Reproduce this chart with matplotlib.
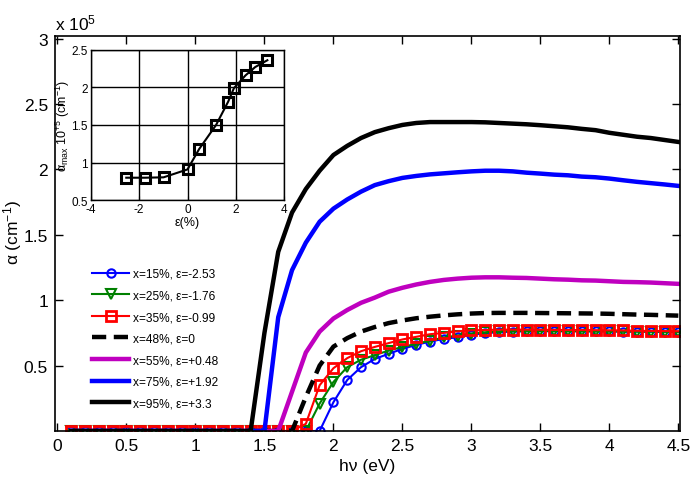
import matplotlib
matplotlib.use("Agg")
import matplotlib.pyplot as plt
from matplotlib.ticker import FuncFormatter

plt.rcParams['font.family'] = ['Liberation Sans', 'DejaVu Sans']
plt.rcParams['mathtext.fontset'] = 'custom'
plt.rcParams['mathtext.rm'] = 'Liberation Sans'
plt.rcParams['mathtext.it'] = 'Liberation Sans:italic'

# ---------------- data ----------------
energy = [0.1, 0.2, 0.3, 0.4, 0.5, 0.6, 0.7, 0.8, 0.9, 1.0,
          1.1, 1.2, 1.3, 1.4, 1.5, 1.6, 1.7, 1.8, 1.9, 2.0,
          2.1, 2.2, 2.3, 2.4, 2.5, 2.6, 2.7, 2.8, 2.9, 3.0,
          3.1, 3.2, 3.3, 3.4, 3.5, 3.6, 3.7, 3.8, 3.9, 4.0,
          4.1, 4.2, 4.3, 4.4, 4.5]

# absorption coefficient in units of 1e5 cm^-1
alpha_x15 = [0, 0, 0, 0, 0, 0, 0, 0, 0, 0,
             0, 0, 0, 0, 0, 0, 0, 0, 0, 0.22,
             0.39, 0.488, 0.551, 0.59, 0.628, 0.658, 0.684, 0.704, 0.717, 0.735,
             0.748, 0.755, 0.76, 0.762, 0.763, 0.763, 0.763, 0.762, 0.762, 0.761,
             0.76, 0.76, 0.759, 0.758, 0.757]
alpha_x25 = [0, 0, 0, 0, 0, 0, 0, 0, 0, 0,
             0, 0, 0, 0, 0, 0, 0, 0, 0.21, 0.375,
             0.488, 0.545, 0.58, 0.615, 0.642, 0.667, 0.69, 0.715, 0.73, 0.745,
             0.755, 0.762, 0.765, 0.765, 0.765, 0.764, 0.763, 0.763, 0.762, 0.762,
             0.761, 0.76, 0.76, 0.759, 0.758]
alpha_x35 = [0, 0, 0, 0, 0, 0, 0, 0, 0, 0,
             0, 0, 0, 0, 0, 0, 0, 0.055, 0.35, 0.48,
             0.557, 0.61, 0.643, 0.672, 0.70, 0.72, 0.74, 0.75, 0.762, 0.77,
             0.772, 0.775, 0.775, 0.775, 0.774, 0.773, 0.772, 0.772, 0.771, 0.77,
             0.769, 0.766, 0.765, 0.764, 0.763]
alpha_x48 = [0, 0, 0, 0, 0, 0, 0, 0, 0, 0,
             0, 0, 0, 0, 0, 0, 0, 0.26, 0.50, 0.645,
             0.71, 0.76, 0.795, 0.825, 0.845, 0.862, 0.874, 0.884, 0.892, 0.898,
             0.902, 0.903, 0.903, 0.903, 0.902, 0.901, 0.90, 0.899, 0.898, 0.896,
             0.893, 0.89, 0.888, 0.885, 0.882]
alpha_x55 = [0, 0, 0, 0, 0, 0, 0, 0, 0, 0,
             0, 0, 0, 0, 0, 0, 0.30, 0.60, 0.76, 0.86,
             0.925, 0.98, 1.02, 1.065, 1.095, 1.12, 1.14, 1.155, 1.165, 1.172,
             1.175, 1.175, 1.172, 1.17, 1.165, 1.16, 1.157, 1.152, 1.15, 1.145,
             1.14, 1.138, 1.135, 1.13, 1.125]
alpha_x75 = [0, 0, 0, 0, 0, 0, 0, 0, 0, 0,
             0, 0, 0, 0, 0, 0.87, 1.23, 1.44, 1.60, 1.70,
             1.77, 1.83, 1.88, 1.91, 1.935, 1.95, 1.962, 1.97, 1.978, 1.985,
             1.99, 1.99, 1.985, 1.975, 1.968, 1.96, 1.955, 1.945, 1.94, 1.93,
             1.917, 1.905, 1.895, 1.885, 1.874]
alpha_x95 = [0, 0, 0, 0, 0, 0, 0, 0, 0, 0,
             0, 0, 0, 0, 0.75, 1.37, 1.67, 1.85, 1.99, 2.11,
             2.18, 2.24, 2.285, 2.315, 2.34, 2.355, 2.362, 2.362, 2.362, 2.362,
             2.36, 2.355, 2.35, 2.345, 2.338, 2.33, 2.322, 2.31, 2.30, 2.28,
             2.265, 2.25, 2.24, 2.225, 2.21]

labels = ['x=15%, ε=-2.53', 'x=25%, ε=-1.76', 'x=35%, ε=-0.99', 'x=48%, ε=0',
          'x=55%, ε=+0.48', 'x=75%, ε=+1.92', 'x=95%, ε=+3.3']

# inset: strain vs maximum absorption (1e5 cm^-1)
strain = [-2.53, -1.76, -0.99, 0.0, 0.48, 1.18, 1.68, 1.92, 2.40, 2.80, 3.30]
alpha_max = [0.80, 0.80, 0.805, 0.91, 1.18, 1.50, 1.81, 1.99, 2.16, 2.27, 2.36]

x_ticks = [0, 0.5, 1, 1.5, 2, 2.5, 3, 3.5, 4, 4.5]
y_ticks = [0.5, 1, 1.5, 2, 2.5, 3]
inset_x_ticks = [-4, -2, 0, 2, 4]
inset_y_ticks = [0.5, 1, 1.5, 2, 2.5]

# ---------------- figure ----------------
W, H = 696, 489
fig = plt.figure(figsize=(W / 100, H / 100), dpi=100)
ax = fig.add_axes([55 / W, (H - 432) / H, (680 - 55) / W, (432 - 37) / H])

fmt = FuncFormatter(lambda v, p: f'{v:g}')
scale = 1e5
series = [alpha_x15, alpha_x25, alpha_x35, alpha_x48, alpha_x55, alpha_x75, alpha_x95]
styles = [
    dict(color='#0000ff', lw=1.5, marker='o', ms=6, mfc='none', mew=1.5),
    dict(color='#008000', lw=1.5, marker='v', ms=6.5, mfc='none', mew=1.5),
    dict(color='#ff0000', lw=1.5, marker='s', ms=7, mfc='none', mew=2.0),
    dict(color='black', lw=3.2, ls=(0, (3.2, 1.7))),
    dict(color='#bf00bf', lw=3.2),
    dict(color='#0000ff', lw=3.2),
    dict(color='black', lw=3.2),
]
for vals, st, lab in zip(series, styles, labels):
    ax.plot(energy, [v * scale for v in vals], label=lab, **st)

ax.set_xlim(-0.018, 4.512)
ax.set_ylim(0, 3.02e5)
ax.set_xticks(x_ticks)
ax.set_yticks([t * scale for t in y_ticks])
ax.xaxis.set_major_formatter(fmt)
ax.yaxis.set_major_formatter(FuncFormatter(lambda v, p: f'{v / scale:g}'))
ax.tick_params(direction='in', length=6, width=1, top=True, right=True,
               labelsize=12.5, pad=5, colors='black')
for sp in ax.spines.values():
    sp.set_linewidth(1.2)

ax.set_xlabel('hν (eV)', fontsize=12.5, labelpad=4)
ax.set_ylabel('α (cm$^{-1}$)', fontsize=12.5, va='center')
ax.yaxis.set_label_coords((13 - 55) / 625, (432 - 232) / 395)
fig.text(55 / W, 1 - 30 / H, 'x 10$^{5}$', fontsize=12.5, ha='left', va='baseline')

leg = ax.legend(loc='upper left', bbox_to_anchor=(92 / W, 1 - 269 / H),
                bbox_transform=fig.transFigure, frameon=False, fontsize=8.6,
                handlelength=3.1, handletextpad=0.3, labelspacing=0.8,
                borderpad=0, borderaxespad=0)

# ---------------- inset ----------------
axi = fig.add_axes([90.7 / W, (H - 201.3) / H, (284.3 - 90.7) / W, (201.3 - 50.7) / H])
axi.plot(strain, alpha_max, color='black', lw=1.5, marker='s', ms=7.5,
         mfc='none', mec='black', mew=2.2, zorder=3)
axi.set_xlim(-4, 4)
axi.set_ylim(0.5, 2.5)
axi.set_xticks(inset_x_ticks)
axi.set_yticks(inset_y_ticks)
axi.xaxis.set_major_formatter(fmt)
axi.yaxis.set_major_formatter(fmt)
axi.grid(True, color='black', lw=1.0, ls='-')
axi.set_axisbelow(True)
axi.tick_params(direction='in', length=3, labelsize=8.5, pad=2)
for sp in axi.spines.values():
    sp.set_linewidth(1.0)
axi.set_xlabel('ε(%)', fontsize=9, labelpad=1)
axi.set_ylabel('α$_{\\mathrm{max}}$ 10$^{+5}$ (cm$^{-1}$)', fontsize=9, va='center')
axi.yaxis.set_label_coords((63 - 90.7) / 193.6, 0.5)

fig.savefig('out.png', dpi=100)
